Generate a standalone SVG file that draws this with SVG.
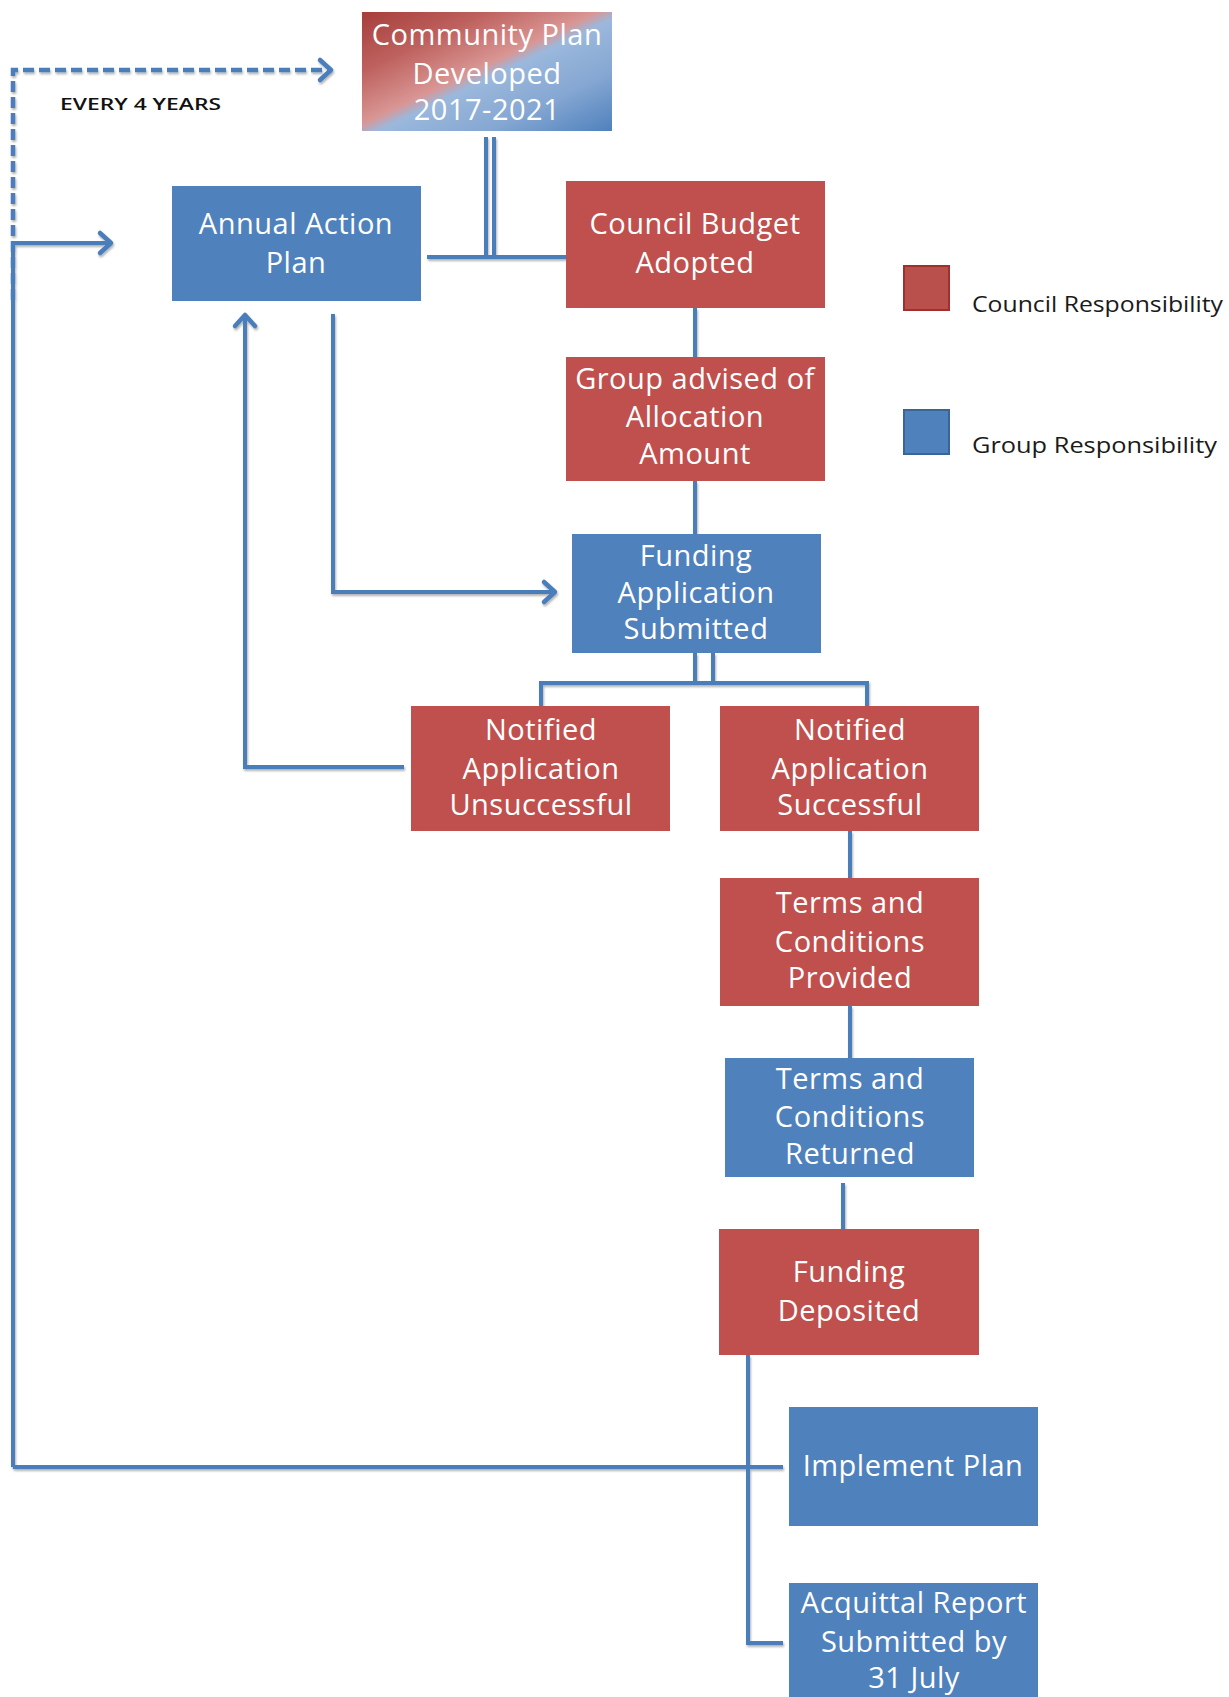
<svg xmlns="http://www.w3.org/2000/svg" width="1229" height="1697" viewBox="0 0 1229 1697">
<style>
.red{fill:#C0504D}
.blue{fill:#4F81BD}
.lbl{font-family:"Open Sans","Liberation Sans",sans-serif;font-size:29px;fill:#FFFFFF;text-anchor:middle;letter-spacing:0.5px}
.leg{font-family:"Open Sans","Liberation Sans",sans-serif;font-size:22px;fill:#1a1a1a}
.con{fill:none;stroke:#4A7EBB;stroke-width:4;stroke-linejoin:miter}
.dash{stroke-dasharray:11 5;stroke-width:4.5}
</style>
<defs>
<linearGradient id="cp" x1="0" y1="0" x2="1" y2="1">
<stop offset="0" stop-color="#A63E3B"/>
<stop offset="0.25" stop-color="#BE615E"/>
<stop offset="0.47" stop-color="#D99694"/>
<stop offset="0.53" stop-color="#9BB8DC"/>
<stop offset="0.75" stop-color="#85A7D2"/>
<stop offset="1" stop-color="#4F81BD"/>
</linearGradient>
<marker id="ah" viewBox="-15 -14 19 28" refX="0" refY="0" markerWidth="19" markerHeight="28" markerUnits="userSpaceOnUse" orient="auto">
<path d="M-11,-10 L0,0 L-11,10" fill="none" stroke="#4A7EBB" stroke-width="4.5" stroke-linecap="round" stroke-linejoin="round"/>
</marker>
<filter id="sh" x="-5%" y="-5%" width="110%" height="110%">
<feDropShadow dx="1" dy="2" stdDeviation="1.2" flood-color="#000" flood-opacity="0.3"/>
</filter>
</defs>

<g id="connectors" filter="url(#sh)">
<path class="con dash" d="M13,300 V70 H331" marker-end="url(#ah)"/>
<path class="con" d="M13,1467 V243 H111" marker-end="url(#ah)"/>
<path class="con" d="M13,1467 H783"/>
<path class="con" stroke-width="3" d="M486,137 V257"/>
<path class="con" stroke-width="3" d="M494,137 V257"/>
<path class="con" d="M427,257 H566"/>
<path class="con" d="M695,308 V357"/>
<path class="con" d="M695,481 V534"/>
<path class="con" d="M333,314 V592 H555" marker-end="url(#ah)"/>
<path class="con" d="M404,767 H245 V315" marker-end="url(#ah)"/>
<path class="con" stroke-width="3" d="M695,653 V683"/>
<path class="con" stroke-width="3" d="M713,653 V683"/>
<path class="con" d="M541,706 V683 H867 V706"/>
<path class="con" d="M850,831 V878"/>
<path class="con" d="M850,1006 V1058"/>
<path class="con" d="M843,1183 V1229"/>
<path class="con" d="M748,1355 V1643 H783"/>
</g>

<g id="community-plan">
<rect x="362" y="12" width="250" height="119" fill="url(#cp)"/>
<text class="lbl" x="487" y="45">Community Plan</text>
<text class="lbl" x="487" y="84">Developed</text>
<text class="lbl" x="487" y="120">2017-2021</text>
</g>

<g id="every-4-years">
<text x="60" y="110" font-family="'Open Sans','Liberation Sans',sans-serif" font-size="17" font-weight="600" fill="#111" textLength="161" lengthAdjust="spacingAndGlyphs">EVERY 4 YEARS</text>
</g>

<g id="annual-action-plan">
<rect class="blue" x="172" y="186" width="249" height="115"/>
<text class="lbl" x="296" y="234">Annual Action</text>
<text class="lbl" x="296" y="273">Plan</text>
</g>

<g id="council-budget">
<rect class="red" x="566" y="181" width="259" height="127"/>
<text class="lbl" x="695" y="234">Council Budget</text>
<text class="lbl" x="695" y="273">Adopted</text>
</g>

<g id="group-advised">
<rect class="red" x="566" y="357" width="259" height="124"/>
<text class="lbl" x="695" y="389">Group advised of</text>
<text class="lbl" x="695" y="427">Allocation</text>
<text class="lbl" x="695" y="464">Amount</text>
</g>

<g id="funding-application">
<rect class="blue" x="572" y="534" width="249" height="119"/>
<text class="lbl" x="696" y="566">Funding</text>
<text class="lbl" x="696" y="603">Application</text>
<text class="lbl" x="696" y="639">Submitted</text>
</g>

<g id="notified-unsuccessful">
<rect class="red" x="411" y="706" width="259" height="125"/>
<text class="lbl" x="541" y="740">Notified</text>
<text class="lbl" x="541" y="779">Application</text>
<text class="lbl" x="541" y="815">Unsuccessful</text>
</g>

<g id="notified-successful">
<rect class="red" x="720" y="706" width="259" height="125"/>
<text class="lbl" x="850" y="740">Notified</text>
<text class="lbl" x="850" y="779">Application</text>
<text class="lbl" x="850" y="815">Successful</text>
</g>

<g id="terms-provided">
<rect class="red" x="720" y="878" width="259" height="128"/>
<text class="lbl" x="850" y="913">Terms and</text>
<text class="lbl" x="850" y="952">Conditions</text>
<text class="lbl" x="850" y="988">Provided</text>
</g>

<g id="terms-returned">
<rect class="blue" x="725" y="1058" width="249" height="119"/>
<text class="lbl" x="850" y="1089">Terms and</text>
<text class="lbl" x="850" y="1127">Conditions</text>
<text class="lbl" x="850" y="1164">Returned</text>
</g>

<g id="funding-deposited">
<rect class="red" x="719" y="1229" width="260" height="126"/>
<text class="lbl" x="849" y="1282">Funding</text>
<text class="lbl" x="849" y="1321">Deposited</text>
</g>

<g id="implement-plan">
<rect class="blue" x="789" y="1407" width="249" height="119"/>
<text class="lbl" x="913" y="1476">Implement Plan</text>
</g>

<g id="acquittal-report">
<rect class="blue" x="789" y="1583" width="249" height="114"/>
<text class="lbl" x="914" y="1613">Acquittal Report</text>
<text class="lbl" x="914" y="1652">Submitted by</text>
<text class="lbl" x="914" y="1688">31 July</text>
</g>

<g id="legend">
<rect x="904" y="266" width="45" height="44" fill="#B9504C" stroke="#A0302D" stroke-width="2"/>
<text class="leg" x="972" y="312" textLength="251" lengthAdjust="spacingAndGlyphs">Council Responsibility</text>
<rect x="904" y="410" width="45" height="44" fill="#4F81BD" stroke="#3C6597" stroke-width="2"/>
<text class="leg" x="972" y="453" textLength="245" lengthAdjust="spacingAndGlyphs">Group Responsibility</text>
</g>
</svg>
